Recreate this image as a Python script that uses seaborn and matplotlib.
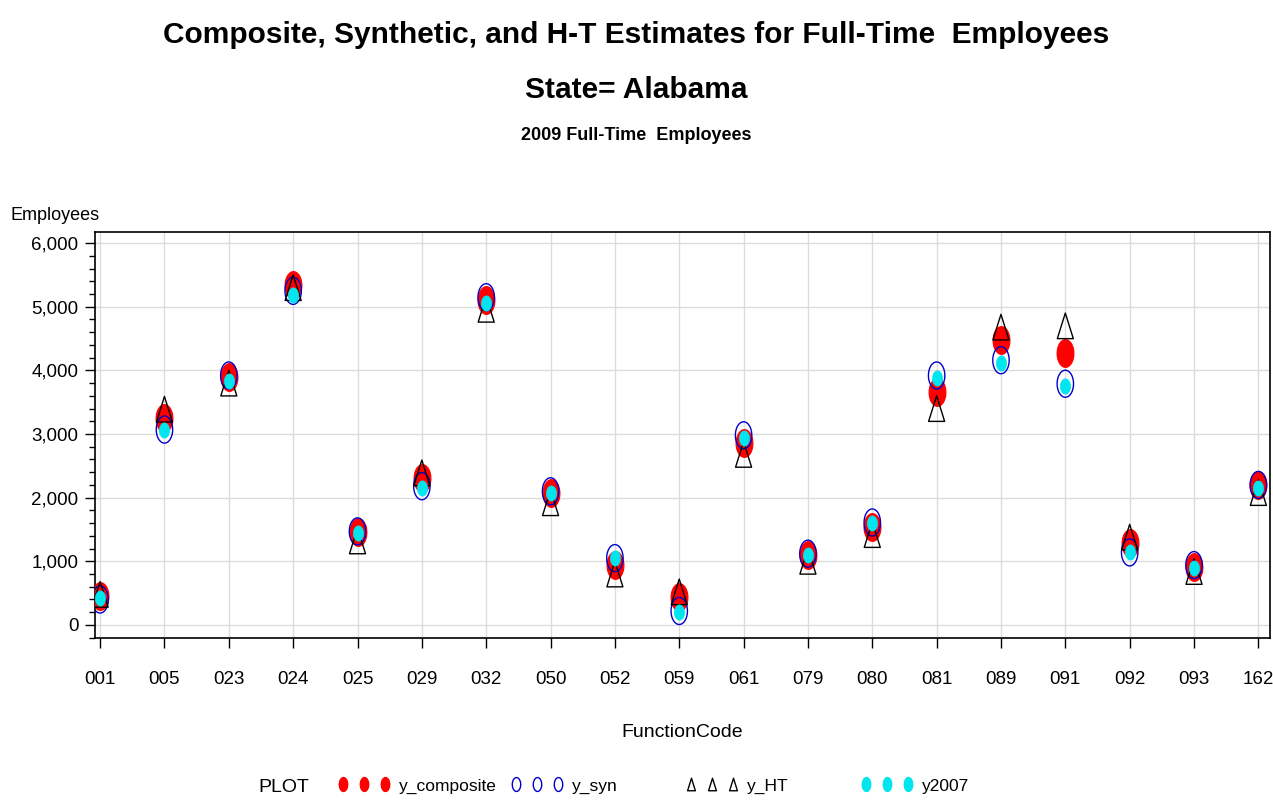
import numpy as np
import pandas as pd
import matplotlib
matplotlib.use("Agg")
import matplotlib.pyplot as plt
from matplotlib.path import Path
from matplotlib.lines import Line2D
from matplotlib.ticker import MultipleLocator, FuncFormatter
import seaborn as sns

codes = ["001", "005", "023", "024", "025", "029", "032", "050", "052", "059",
         "061", "079", "080", "081", "089", "091", "092", "093", "162"]
y_composite = [460, 3250, 3900, 5340, 1460, 2310, 5100, 2070, 940, 440,
               2860, 1100, 1540, 3660, 4480, 4280, 1290, 910, 2200]
y_syn = [400, 3070, 3920, 5250, 1470, 2180, 5150, 2100, 1050, 220,
         2980, 1120, 1610, 3920, 4160, 3790, 1140, 940, 2200]
y_HT = [480, 3390, 3800, 5300, 1320, 2390, 4960, 1920, 800, 520,
        2680, 1000, 1420, 3400, 4680, 4700, 1380, 840, 2080]
y2007 = [420, 3070, 3830, 5190, 1440, 2150, 5060, 2070, 1050, 200,
         2940, 1100, 1600, 3880, 4110, 3750, 1150, 890, 2150]

sns.set_theme(style="white")
plt.rcParams["font.family"] = ["Liberation Sans", "DejaVu Sans"]
for k in ["text.color", "axes.labelcolor", "xtick.color", "ytick.color"]:
    plt.rcParams[k] = "black"

df = pd.DataFrame({"code": codes, "y_composite": y_composite, "y_syn": y_syn,
                   "y_HT": y_HT, "y2007": y2007})
df["pos"] = np.arange(len(codes))

# vertically stretched markers (as in the reference)
t = np.linspace(0, 2 * np.pi, 60)
ell = Path(np.column_stack([np.cos(t), 1.65 * np.sin(t)]), closed=True)
ell_c = Path(np.column_stack([np.cos(t), 1.5 * np.sin(t)]), closed=True)
tri = Path([(-1, -1.6), (1, -1.6), (0, 1.6), (-1, -1.6)], closed=True)

fig = plt.figure(figsize=(12.73, 8.01), dpi=100)
ax = fig.add_axes([0.0746, 0.2035, 0.9976 - 0.0746, 0.7104 - 0.2035])

sns.scatterplot(data=df, x="pos", y="y_composite", ax=ax, marker=ell, s=400,
                color="#ff0000", edgecolor="#ff0000", linewidth=0.8, zorder=3)
sns.scatterplot(data=df, x="pos", y="y_syn", ax=ax, marker=ell, s=380,
                facecolor="none", edgecolor="#0000cc", linewidth=1.0, zorder=4)
sns.scatterplot(data=df, x="pos", y="y_HT", ax=ax, marker=tri, s=340,
                facecolor="none", edgecolor="black", linewidth=1.0, zorder=5)
sns.scatterplot(data=df, x="pos", y="y2007", ax=ax, marker=ell_c, s=120,
                color="#00e5ee", edgecolor="#00e5ee", linewidth=0.5, zorder=6)

ax.set_xlim(-0.08, 18.18)
ax.set_ylim(-205, 6175)
ax.set_xticks(df["pos"])
ax.set_xticklabels(codes)
ax.yaxis.set_major_locator(MultipleLocator(1000))
ax.yaxis.set_minor_locator(MultipleLocator(200))
ax.yaxis.set_major_formatter(FuncFormatter(lambda v, p: f"{int(v):,}"))
ax.grid(True, which="major", color="#dcdcdc", linewidth=1.0)
ax.set_axisbelow(True)
for s in ax.spines.values():
    s.set_color("black")
    s.set_linewidth(1.2)
ax.tick_params(axis="both", which="major", direction="out", length=7, width=1,
               color="black", labelsize=13.5, pad=5, bottom=True, left=True)
ax.tick_params(axis="x", which="major", pad=17)
ax.tick_params(axis="y", which="minor", direction="out", length=4, width=1,
               color="black", left=True)
ax.set_xlabel("FunctionCode", fontsize=14, labelpad=26)
ax.set_ylabel("")
fig.text(10 / 1273, 1 - 215 / 801, "Employees", fontsize=13, ha="left", va="center")

fig.text(0.5, 1 - 35 / 801, "Composite, Synthetic, and H-T Estimates for Full-Time  Employees",
         ha="center", va="center", fontsize=21.5, fontweight="bold")
fig.text(0.5, 1 - 90 / 801, "State= Alabama", ha="center", va="center",
         fontsize=21.5, fontweight="bold")
fig.text(0.5, 1 - 135 / 801, "2009 Full-Time  Employees", ha="center", va="center",
         fontsize=13, fontweight="bold")

handles = [
    Line2D([], [], linestyle="none", marker=ell, markersize=10, color="#ff0000"),
    Line2D([], [], linestyle="none", marker=ell, markersize=10, markerfacecolor="none",
           markeredgecolor="#0000cc"),
    Line2D([], [], linestyle="none", marker=tri, markersize=9, markerfacecolor="none",
           markeredgecolor="black"),
    Line2D([], [], linestyle="none", marker=ell, markersize=10, color="#00e5ee"),
]
labels = ["y_composite", "y_syn", "y_HT", "y2007"]
legend_x = [338, 511, 686, 861]
fig.text(258 / 1273, 1 - 787 / 801, "PLOT", fontsize=14, ha="left", va="center")
for h, lab, lx in zip(handles, labels, legend_x):
    fig.legend([h], [lab], loc="center left", bbox_to_anchor=(lx / 1273, 1 - 786 / 801),
               frameon=False, numpoints=3, fontsize=12.5, handlelength=3.0,
               handletextpad=0.5, borderpad=0, borderaxespad=0)

fig.savefig("out.png", dpi=100)
